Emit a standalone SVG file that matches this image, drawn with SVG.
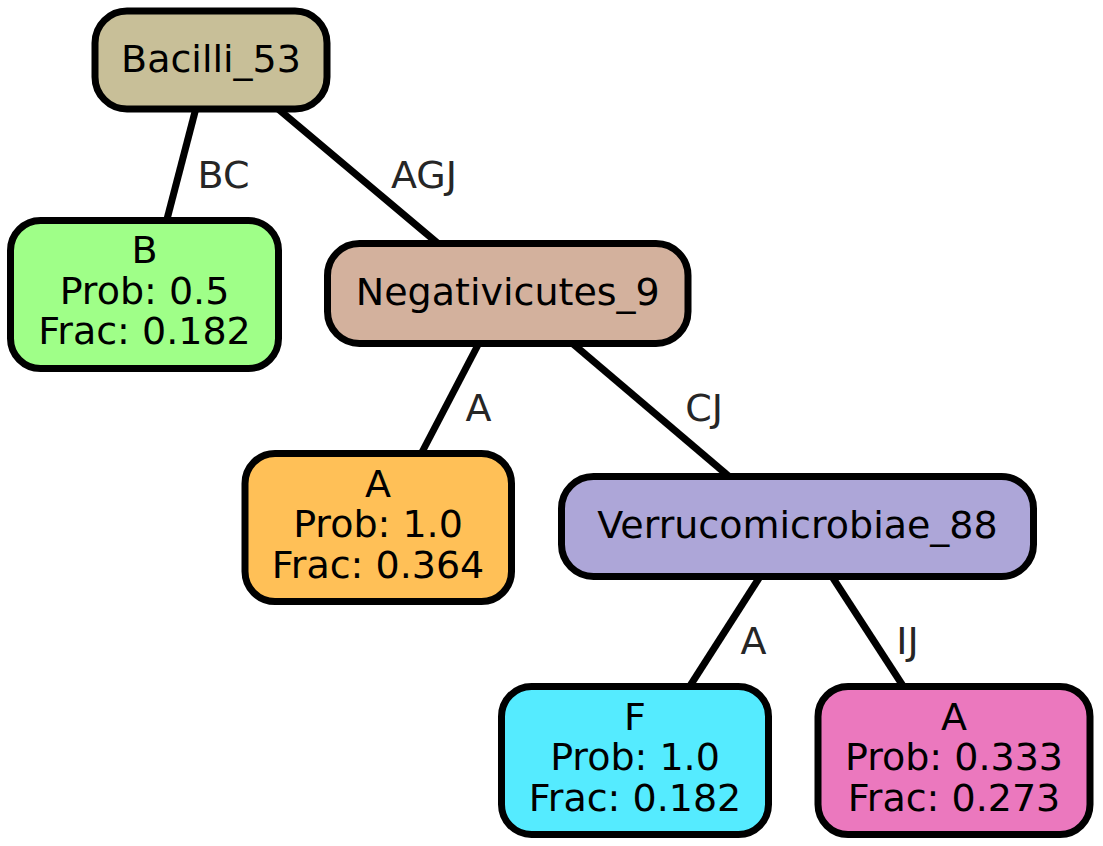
<svg xmlns="http://www.w3.org/2000/svg" width="1103" height="846" viewBox="0 0 1103 846">
<style>
.n{stroke:#000;stroke-width:7}
.t{font-family:"DejaVu Sans",sans-serif;font-size:38px;fill:#000;text-anchor:middle}
.l{font-family:"DejaVu Sans",sans-serif;font-size:38px;fill:#262626;text-anchor:middle}
.e{stroke:#000;stroke-width:7;fill:none}
</style>
<rect width="1103" height="846" fill="#fff"/>
<g id="edges">
<line class="e" x1="196" y1="108" x2="166" y2="223"/>
<line class="e" x1="277" y1="108" x2="441" y2="246"/>
<line class="e" x1="479" y1="343" x2="420" y2="456"/>
<line class="e" x1="572" y1="343" x2="732" y2="479"/>
<line class="e" x1="761" y1="575" x2="688" y2="689"/>
<line class="e" x1="831" y1="575" x2="905" y2="689"/>
<text class="l" x="223.5" y="188">BC</text>
<text class="l" x="424" y="188">AGJ</text>
<text class="l" x="478.5" y="421">A</text>
<text class="l" x="704" y="421">CJ</text>
<text class="l" x="753.5" y="654">A</text>
<text class="l" x="907.5" y="654">IJ</text>
</g>
<g id="Bacilli_53">
<rect class="n" x="95" y="11" width="232" height="98" rx="32" fill="#C8BF98"/>
<text class="t" x="211" y="72">Bacilli_53</text>
</g>
<g id="B">
<rect class="n" x="10.5" y="220.5" width="268" height="148" rx="30" fill="#9FFF88"/>
<text class="t" x="144.5" y="263">B</text>
<text class="t" x="144.5" y="304">Prob: 0.5</text>
<text class="t" x="144.5" y="344">Frac: 0.182</text>
</g>
<g id="Negativicutes_9">
<rect class="n" x="327.5" y="243.5" width="360.5" height="100" rx="32" fill="#D3B19D"/>
<text class="t" x="507.8" y="305">Negativicutes_9</text>
</g>
<g id="A1">
<rect class="n" x="245" y="453.5" width="266.5" height="148" rx="30" fill="#FFC057"/>
<text class="t" x="378" y="496.5">A</text>
<text class="t" x="378" y="537">Prob: 1.0</text>
<text class="t" x="378" y="577.5">Frac: 0.364</text>
</g>
<g id="Verrucomicrobiae_88">
<rect class="n" x="561.5" y="476.5" width="472" height="100" rx="32" fill="#ADA6D8"/>
<text class="t" x="797.5" y="538">Verrucomicrobiae_88</text>
</g>
<g id="F">
<rect class="n" x="501.5" y="686.5" width="267" height="148" rx="30" fill="#55EBFF"/>
<text class="t" x="635" y="729.5">F</text>
<text class="t" x="635" y="770">Prob: 1.0</text>
<text class="t" x="635" y="810.5">Frac: 0.182</text>
</g>
<g id="A2">
<rect class="n" x="818" y="686.5" width="272" height="148" rx="30" fill="#EB78BE"/>
<text class="t" x="954" y="729.5">A</text>
<text class="t" x="954" y="770">Prob: 0.333</text>
<text class="t" x="954" y="810.5">Frac: 0.273</text>
</g>
</svg>
